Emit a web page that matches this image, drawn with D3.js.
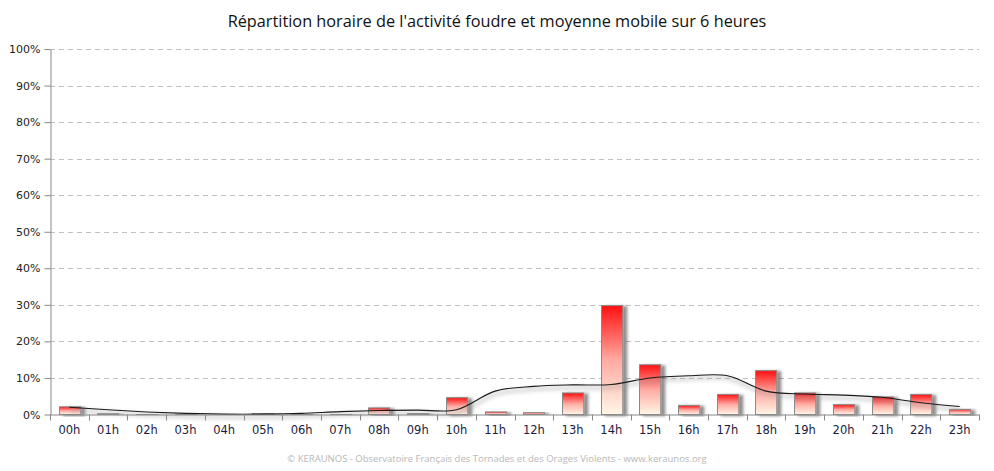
<!DOCTYPE html>
<html>
<head>
<meta charset="utf-8">
<script src="https://cdn.jsdelivr.net/npm/d3@7"></script>
<style>
  body { margin: 0; background: #fff; }
  svg { display: block; }
</style>
</head>
<body>
<div id="chart"></div>
<script>
const hours = ['00h','01h','02h','03h','04h','05h','06h','07h','08h','09h','10h','11h','12h','13h','14h','15h','16h','17h','18h','19h','20h','21h','22h','23h']
const activity = [2.1, 0.2, 0.1, 0.1, 0.0, 0.3, 0.1, 0.1, 1.8, 0.3, 4.6, 0.7, 0.5, 5.9, 29.8, 13.6, 2.5, 5.5, 12.0, 5.9, 2.7, 4.8, 5.5, 1.4]
const movingAvg = [2.0, 1.3, 0.7, 0.3, 0.1, 0.1, 0.3, 0.8, 1.1, 1.2, 1.3, 6.4, 7.7, 8.1, 8.2, 10.0, 10.6, 10.6, 6.4, 5.6, 5.3, 4.7, 3.2, 2.2]
const yTicks = [0, 10, 20, 30, 40, 50, 60, 70, 80, 90, 100]

const width = 994
const height = 471
const margin = { top: 49, right: 15, bottom: 56, left: 50 }

const svg = d3.select('#chart').append('svg')
  .attr('width', width)
  .attr('height', height)

const defs = svg.append('defs')
const grad = defs.append('linearGradient')
  .attr('id', 'barGrad')
  .attr('x1', 0).attr('y1', 0).attr('x2', 0).attr('y2', 1)
grad.append('stop').attr('offset', '0%').attr('stop-color', '#ff1010')
grad.append('stop').attr('offset', '50%').attr('stop-color', '#ffaaa2')
grad.append('stop').attr('offset', '100%').attr('stop-color', '#fff6e6')

const shadow = defs.append('filter').attr('id', 'barShadow')
  .attr('x', '-20%').attr('y', '-20%').attr('width', '160%').attr('height', '140%')
shadow.append('feDropShadow')
  .attr('dx', 4).attr('dy', 1).attr('stdDeviation', 1.8)
  .attr('flood-color', '#000').attr('flood-opacity', 0.45)

const lineShadow = defs.append('filter').attr('id', 'lineShadow')
  .attr('x', '-5%').attr('y', '-50%').attr('width', '110%').attr('height', '200%')
lineShadow.append('feGaussianBlur').attr('stdDeviation', 2)

const x = d3.scaleBand()
  .domain(hours)
  .range([margin.left, width - margin.right])
  .paddingInner(0.45)
  .paddingOuter(0.225)

const band = d3.scaleBand()
  .domain(hours)
  .range([margin.left, width - margin.right])

const y = d3.scaleLinear()
  .domain([0, 100])
  .range([height - margin.bottom - 0.5, margin.top])

// title
svg.append('text')
  .attr('x', width / 2)
  .attr('y', 27)
  .attr('text-anchor', 'middle')
  .attr('font-family', 'Open Sans, sans-serif')
  .attr('font-size', 16.3)
  .attr('fill', '#111')
  .text("Répartition horaire de l'activité foudre et moyenne mobile sur 6 heures")

// grid
svg.append('g')
  .selectAll('line')
  .data(yTicks.filter(d => d > 0))
  .join('line')
  .attr('x1', margin.left)
  .attr('x2', width - margin.right)
  .attr('y1', d => Math.round(y(d)) + 0.5)
  .attr('y2', d => Math.round(y(d)) + 0.5)
  .attr('stroke', '#c0c0c0')
  .attr('stroke-dasharray', '5,4')

// bars
svg.append('g')
  .selectAll('rect')
  .data(activity)
  .join('rect')
  .attr('x', (d, i) => Math.round(x(hours[i])) + 0.5)
  .attr('y', d => y(d))
  .attr('width', x.bandwidth())
  .attr('height', d => y(0) - y(d))
  .attr('fill', 'url(#barGrad)')
  .attr('stroke', '#8a8a8a')
  .attr('stroke-width', 1)
  .attr('filter', 'url(#barShadow)')

// moving average
const line = d3.line()
  .x((d, i) => band(hours[i]) + band.bandwidth() / 2)
  .y(d => y(d))
  .curve(d3.curveCatmullRom.alpha(0.5))

svg.append('path')
  .datum(movingAvg)
  .attr('fill', 'none')
  .attr('stroke', '#9a9a9a')
  .attr('stroke-width', 3)
  .attr('opacity', 0.5)
  .attr('transform', 'translate(1,3)')
  .attr('filter', 'url(#lineShadow)')
  .attr('d', line)

svg.append('path')
  .datum(movingAvg)
  .attr('fill', 'none')
  .attr('stroke', '#1a1a1a')
  .attr('stroke-width', 1.1)
  .attr('d', line)

// axes
const yAxis = g => g
  .attr('transform', `translate(${margin.left + 0.5},0)`)
  .call(d3.axisLeft(y).tickValues(yTicks).tickFormat(d => d + '%').tickSize(6).tickSizeOuter(0))
  .call(g => g.select('.domain').attr('stroke', '#888'))
  .call(g => g.selectAll('.tick line').attr('stroke', '#888'))
  .call(g => g.selectAll('.tick text')
    .attr('font-family', 'DejaVu Sans, Verdana, sans-serif')
    .attr('font-size', 11)
    .attr('fill', '#222')
    .attr('x', -10))

const xAxis = g => g
  .attr('transform', `translate(0,${y(0)})`)
  .call(d3.axisBottom(band).tickSize(0).tickSizeOuter(0))
  .call(g => g.select('.domain').attr('stroke', '#888'))
  .call(g => g.selectAll('.tick text')
    .attr('font-family', 'DejaVu Sans, Verdana, sans-serif')
    .attr('font-size', 11.5)
    .attr('fill', '#1a1a40')
    .attr('dy', '1.45em'))

svg.append('g').call(yAxis)
svg.append('g').call(xAxis)

// x tick marks at band boundaries
svg.append('g')
  .selectAll('line')
  .data(hours.concat(['end']))
  .join('line')
  .attr('x1', (d, i) => Math.round(margin.left + i * band.step()) + 0.5)
  .attr('x2', (d, i) => Math.round(margin.left + i * band.step()) + 0.5)
  .attr('y1', y(0))
  .attr('y2', y(0) + 6)
  .attr('stroke', '#888')

// footer
svg.append('text')
  .attr('x', width / 2)
  .attr('y', 462)
  .attr('text-anchor', 'middle')
  .attr('font-family', 'Open Sans, sans-serif')
  .attr('font-size', 9.5)
  .attr('fill', '#b8b8b8')
  .text('© KERAUNOS - Observatoire Français des Tornades et des Orages Violents - www.keraunos.org')
</script>
</body>
</html>
